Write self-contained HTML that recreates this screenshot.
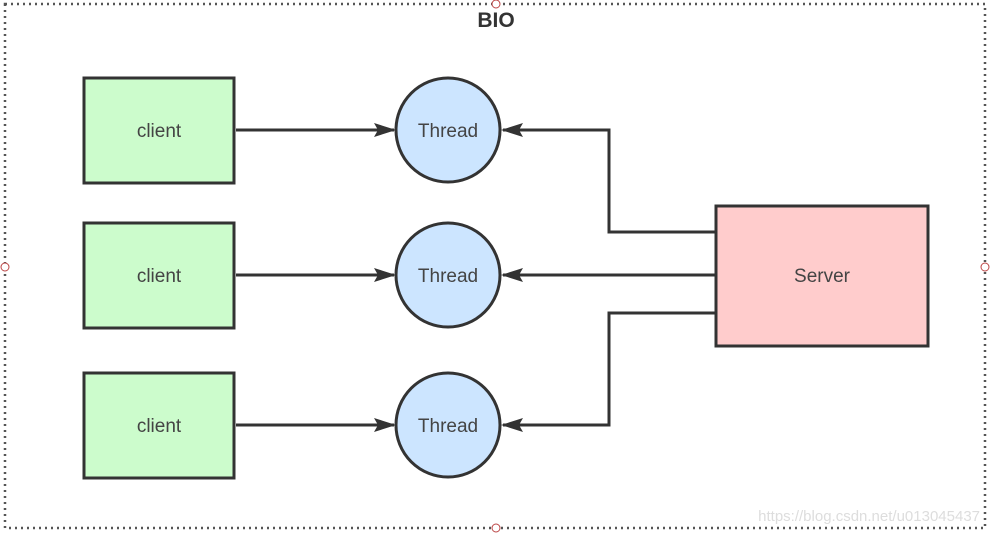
<!DOCTYPE html>
<html><head><style>body{margin:0;background:#fff}svg{display:block}</style></head><body>
<svg width="990" height="534" viewBox="0 0 990 534" xmlns="http://www.w3.org/2000/svg" font-family="'Liberation Sans',sans-serif">
<defs><marker id="a" markerWidth="10" markerHeight="10" refX="9" refY="5" orient="auto" markerUnits="userSpaceOnUse"><path d="M0,0 L22,5 L0,10 z" transform="scale(1)" fill="#333"/></marker>
<marker id="b" markerWidth="22" markerHeight="14" refX="20" refY="7" orient="auto" markerUnits="userSpaceOnUse"><path d="M0,0 L22,7 L0,14 L4,7 z" fill="#333"/></marker></defs>
<rect x="5" y="4" width="980" height="524" fill="none" stroke="#555" stroke-width="2.5" stroke-dasharray="2,4"/>
<text x="496" y="27" font-size="21" font-weight="bold" fill="#333" text-anchor="middle">BIO</text>
<circle cx="496" cy="4" r="4" fill="#fff" stroke="#b44" stroke-width="1"/>
<circle cx="5" cy="267" r="4" fill="#fff" stroke="#b44" stroke-width="1"/>
<circle cx="985" cy="267" r="4" fill="#fff" stroke="#b44" stroke-width="1"/>
<circle cx="496" cy="528" r="4" fill="#fff" stroke="#b44" stroke-width="1"/>
<g stroke="#333" stroke-width="3" fill="#ccfccc">
<rect x="84" y="78" width="150" height="105"/>
<rect x="84" y="223" width="150" height="105"/>
<rect x="84" y="373" width="150" height="105"/>
</g>
<g stroke="#333" stroke-width="3" fill="#cce5ff">
<circle cx="448" cy="130" r="52"/>
<circle cx="448" cy="275" r="52"/>
<circle cx="448" cy="425" r="52"/>
</g>
<rect x="716" y="206" width="212" height="140" fill="#ffcccc" stroke="#333" stroke-width="3"/>
<g stroke="#333" stroke-width="3" fill="none" marker-end="url(#b)">
<path d="M236,130 H394"/>
<path d="M236,275 H394"/>
<path d="M236,425 H394"/>
<path d="M716,232 H609 V130 H503"/>
<path d="M716,275 H503"/>
<path d="M716,313 H609 V425 H503"/>
</g>
<g font-size="19" fill="#444" text-anchor="middle">
<text x="159" y="137">client</text>
<text x="159" y="282">client</text>
<text x="159" y="432">client</text>
<text x="448" y="137">Thread</text>
<text x="448" y="282">Thread</text>
<text x="448" y="432">Thread</text>
<text x="822" y="282">Server</text>
</g>
<text x="980" y="521" font-size="15" fill="#ddd" text-anchor="end">https://blog.csdn.net/u013045437</text>
</svg>
</body></html>
